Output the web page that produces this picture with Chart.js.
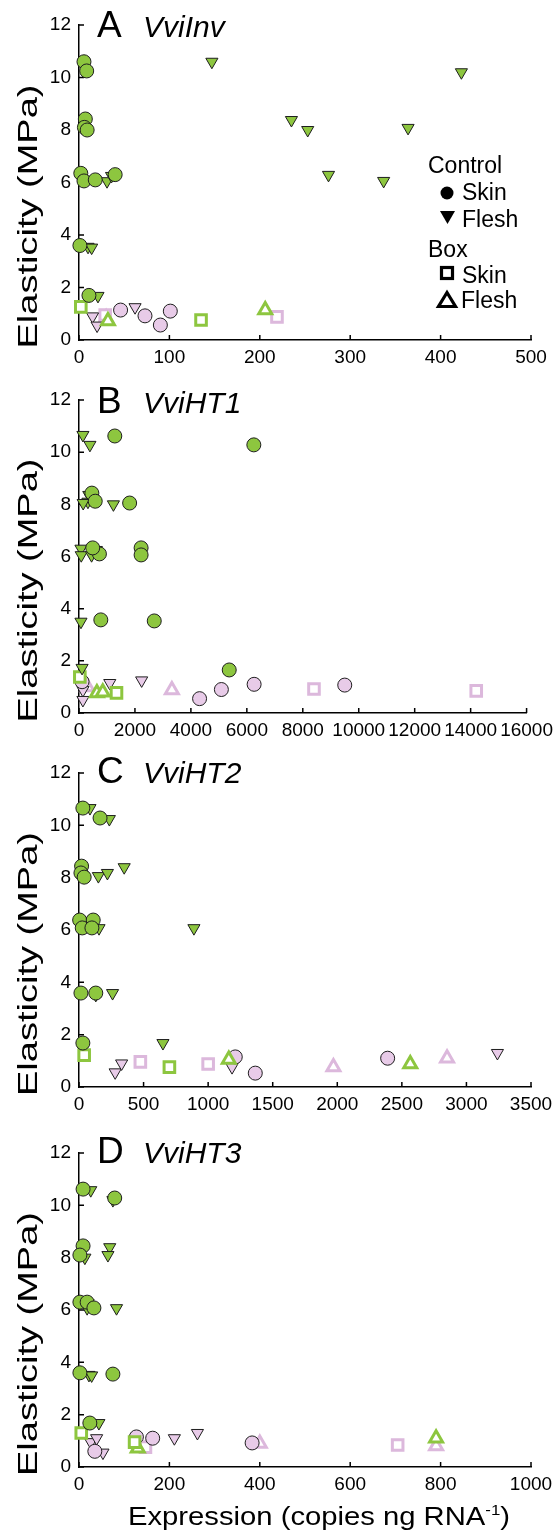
<!DOCTYPE html>
<html>
<head>
<meta charset="utf-8">
<script src="https://cdn.jsdelivr.net/npm/chart.js@4.4.1/dist/chart.umd.min.js"></script>
<style>
  body { margin: 0; background: #fff; width: 559px; height: 1531px; position: relative; overflow: hidden; }
  canvas { position: absolute; left: 0; }
</style>
</head>
<body>
<canvas id="chartA" width="559" height="375" style="top:0px"></canvas>
<canvas id="chartB" width="559" height="375" style="top:375px"></canvas>
<canvas id="chartC" width="559" height="375" style="top:750px"></canvas>
<canvas id="chartD" width="559" height="406" style="top:1125px"></canvas>
<script>
// ---- data: [expression, elasticity] ----
// A  VviInv
const invTicks = [0, 100, 200, 300, 400, 500];
const invCtrlSkinGreen = [[5.5,10.6],[8.5,10.25],[7,8.42],[6,8.1],[9,8.0],[2,6.35],[5.5,6.06],[18,6.1],[40,6.3],[1,3.6],[11,1.7]];
const invCtrlFleshGreen = [[147,10.6],[423,10.2],[235,8.38],[253,8.0],[364,8.08],[276,6.29],[337,6.06],[31,6.05],[36,6.25],[10,3.55],[14,3.52],[21,1.68]];
const invCtrlSkinPink = [[46,1.14],[73,0.92],[90,0.57],[101,1.1]];
const invCtrlFleshPink = [[62,1.25],[15,0.9],[20,0.55]];
const invBoxSkinGreen = [[2,1.26],[135,0.76]];
const invBoxFleshGreen = [[32,0.72],[206,1.14]];
const invBoxSkinPink = [[29,0.95],[219,0.88]];
const invBoxFleshPink = [[30,0.84]];

// B  VviHT1
const ht1Ticks = [0, 2000, 4000, 6000, 8000, 10000, 12000, 14000, 16000];
const ht1CtrlSkinGreen = [[1280,10.62],[6250,10.28],[460,8.43],[580,8.12],[1810,8.05],[2220,6.33],[2220,6.06],[730,6.1],[490,6.33],[780,3.57],[2690,3.53],[5370,1.65]];
const ht1CtrlFleshGreen = [[140,10.66],[390,10.28],[350,8.36],[320,8.1],[150,8.05],[1230,8.0],[70,6.3],[80,6.05],[450,6.05],[620,6.25],[70,3.5],[110,1.73]];
const ht1CtrlSkinPink = [[4310,0.55],[5090,0.9],[6260,1.1],[9500,1.07],[110,1.2]];
const ht1CtrlFleshPink = [[1100,1.15],[2240,1.25],[140,0.88],[140,0.5]];
const ht1BoxSkinGreen = [[30,1.38],[1340,0.77]];
const ht1BoxFleshGreen = [[640,0.77],[850,0.8]];
const ht1BoxSkinPink = [[8400,0.92],[14200,0.85]];
const ht1BoxFleshPink = [[3320,0.88],[300,1.0]];

// C  VviHT2
const ht2Ticks = [0, 500, 1000, 1500, 2000, 2500, 3000, 3500];
const ht2CtrlSkinGreen = [[30,10.66],[163,10.28],[20,8.44],[15,8.18],[40,8.02],[5,6.38],[25,6.08],[110,6.38],[100,6.08],[15,3.59],[130,3.59],[30,1.68]];
const ht2CtrlFleshGreen = [[85,10.66],[235,10.24],[150,8.06],[220,8.18],[350,8.4],[10,6.34],[80,6.34],[155,6.07],[890,6.07],[130,3.52],[260,3.59],[650,1.68]];
const ht2CtrlSkinPink = [[1210,1.15],[1365,0.53],[2390,1.1]];
const ht2CtrlFleshPink = [[280,0.56],[330,0.9],[1185,0.76],[3240,1.3]];
const ht2BoxSkinGreen = [[40,1.22],[700,0.76]];
const ht2BoxFleshGreen = [[1160,1.05],[2565,0.88]];
const ht2BoxSkinPink = [[475,0.96],[1000,0.88]];
const ht2BoxFleshPink = [[1970,0.76],[2850,1.1]];

// D  VviHT3
const ht3Ticks = [0, 200, 400, 600, 800, 1000];
const ht3CtrlSkinGreen = [[9,10.62],[79,10.28],[9,8.45],[2,8.1],[2,6.3],[18,6.3],[33,6.08],[2,3.6],[75,3.55],[24,1.68]];
const ht3CtrlFleshGreen = [[26,10.58],[75,10.2],[68,8.4],[64,8.1],[13,8.0],[18,6.07],[83,6.07],[20,6.27],[22,3.52],[28,3.5],[44,1.68]];
const ht3CtrlSkinPink = [[127,1.15],[163,1.1],[383,0.92],[35,0.6]];
const ht3CtrlFleshPink = [[211,1.1],[262,1.3],[26,0.95],[39,1.1],[53,0.55]];
const ht3BoxSkinGreen = [[5,1.3],[123,0.95]];
const ht3BoxFleshGreen = [[130,0.72],[790,1.1]];
const ht3BoxSkinPink = [[147,0.76],[705,0.84]];
const ht3BoxFleshPink = [[400,0.9],[790,0.8]];

const yTicks = [0, 2, 4, 6, 8, 10, 12];

// ---- styles ----
const GREEN = '#8dc63f';
const PINK_FILL = '#e8cbe8';
const PINK_LINE = '#dcb8dc';
const EDGE = '#1e1e1e';
const FONT = "'Liberation Sans', Arial, Helvetica, sans-serif";

Chart.defaults.font.family = FONT;
Chart.defaults.color = '#000';

function series(points, style) {
    return Object.assign({
        data: points.map(p => ({ x: p[0], y: p[1] })),
        clip: false,
        showLine: false
    }, style);
}

const ctrlSkinG = { pointStyle: 'circle', pointRadius: 7, backgroundColor: GREEN, borderColor: EDGE, borderWidth: 1 };
const ctrlFleshG = { pointStyle: 'triangle', pointRotation: 180, pointRadius: 7, backgroundColor: GREEN, borderColor: EDGE, borderWidth: 1 };
const ctrlSkinP = { pointStyle: 'circle', pointRadius: 7, backgroundColor: PINK_FILL, borderColor: EDGE, borderWidth: 1 };
const ctrlFleshP = { pointStyle: 'triangle', pointRotation: 180, pointRadius: 7, backgroundColor: PINK_FILL, borderColor: EDGE, borderWidth: 1 };
const boxSkinG = { pointStyle: 'rect', pointRadius: 7.5, backgroundColor: '#fff', borderColor: GREEN, borderWidth: 3 };
const boxFleshG = { pointStyle: 'triangle', pointRadius: 7.5, backgroundColor: '#fff', borderColor: GREEN, borderWidth: 3 };
const boxSkinP = { pointStyle: 'rect', pointRadius: 7.5, backgroundColor: '#fff', borderColor: PINK_LINE, borderWidth: 3 };
const boxFleshP = { pointStyle: 'triangle', pointRadius: 7.5, backgroundColor: '#fff', borderColor: PINK_LINE, borderWidth: 3 };

const panels = [
    { id: 'chartA', areaTop: 25, areaBottom: 340, titleBase: 37, letter: 'A', gene: 'VviInv', ticks: invTicks, legend: true, xTitle: false,
      sets: [[invCtrlSkinGreen, ctrlSkinG], [invCtrlFleshGreen, ctrlFleshG], [invBoxSkinGreen, boxSkinG], [invBoxFleshGreen, boxFleshG],
             [invCtrlSkinPink, ctrlSkinP], [invCtrlFleshPink, ctrlFleshP], [invBoxSkinPink, boxSkinP], [invBoxFleshPink, boxFleshP]] },
    { id: 'chartB', areaTop: 25, areaBottom: 338, titleBase: 38, letter: 'B', gene: 'VviHT1', ticks: ht1Ticks, legend: false, xTitle: false,
      sets: [[ht1CtrlSkinGreen, ctrlSkinG], [ht1CtrlFleshGreen, ctrlFleshG], [ht1BoxSkinGreen, boxSkinG], [ht1BoxFleshGreen, boxFleshG],
             [ht1CtrlSkinPink, ctrlSkinP], [ht1CtrlFleshPink, ctrlFleshP], [ht1BoxSkinPink, boxSkinP], [ht1BoxFleshPink, boxFleshP]] },
    { id: 'chartC', areaTop: 23, areaBottom: 337, titleBase: 33, letter: 'C', gene: 'VviHT2', ticks: ht2Ticks, legend: false, xTitle: false,
      sets: [[ht2CtrlSkinGreen, ctrlSkinG], [ht2CtrlFleshGreen, ctrlFleshG], [ht2BoxSkinGreen, boxSkinG], [ht2BoxFleshGreen, boxFleshG],
             [ht2CtrlSkinPink, ctrlSkinP], [ht2CtrlFleshPink, ctrlFleshP], [ht2BoxSkinPink, boxSkinP], [ht2BoxFleshPink, boxFleshP]] },
    { id: 'chartD', areaTop: 28, areaBottom: 342, titleBase: 38, letter: 'D', gene: 'VviHT3', ticks: ht3Ticks, legend: false, xTitle: true,
      sets: [[ht3CtrlSkinGreen, ctrlSkinG], [ht3CtrlFleshGreen, ctrlFleshG], [ht3BoxSkinGreen, boxSkinG], [ht3BoxFleshGreen, boxFleshG],
             [ht3CtrlSkinPink, ctrlSkinP], [ht3CtrlFleshPink, ctrlFleshP], [ht3BoxSkinPink, boxSkinP], [ht3BoxFleshPink, boxFleshP]] }
];

// inward tick marks
const inwardTicks = {
    id: 'inwardTicks',
    beforeDatasetsDraw(chart) {
        const ctx = chart.ctx;
        const { left, bottom } = chart.chartArea;
        const xs = chart.scales.x, ys = chart.scales.y;
        ctx.save();
        ctx.strokeStyle = '#000';
        ctx.lineWidth = 1.5;
        ctx.beginPath();
        xs.ticks.forEach(t => {
            const px = xs.getPixelForValue(t.value);
            ctx.moveTo(px, bottom);
            ctx.lineTo(px, bottom - 5);
        });
        ys.ticks.forEach(t => {
            const py = ys.getPixelForValue(t.value);
            ctx.moveTo(left, py);
            ctx.lineTo(left + 5, py);
        });
        ctx.stroke();
        ctx.restore();
    }
};

// panel letters, stretched y title, legend, x title
const decor = {
    id: 'decor',
    afterDraw(chart, args, opts) {
        const ctx = chart.ctx;
        const area = chart.chartArea;
        ctx.save();
        ctx.fillStyle = '#000';
        ctx.textBaseline = 'alphabetic';
        ctx.textAlign = 'left';

        ctx.font = `37px ${FONT}`;
        ctx.fillText(opts.letter, 97, opts.titleBase);
        ctx.font = `italic 30px ${FONT}`;
        ctx.fillText(opts.gene, 143, opts.titleBase);

        // y title, rotated and stretched along its length
        const yLabel = 'Elasticity (MPa)';
        ctx.font = `28px ${FONT}`;
        const w = ctx.measureText(yLabel).width;
        ctx.save();
        ctx.translate(37, (area.top + area.bottom) / 2 + 34);
        ctx.rotate(-Math.PI / 2);
        ctx.scale(264 / w, 1);
        ctx.textAlign = 'center';
        ctx.fillText(yLabel, 0, 0);
        ctx.restore();

        if (opts.legend) {
            ctx.font = `23px ${FONT}`;
            ctx.fillText('Control', 428, 173);
            ctx.fillText('Skin', 462, 200);
            ctx.fillText('Flesh', 462, 227);
            ctx.fillText('Box', 428, 257);
            ctx.fillText('Skin', 462, 283);
            ctx.fillText('Flesh', 461, 308);

            ctx.beginPath();
            ctx.arc(447, 193, 6.5, 0, Math.PI * 2);
            ctx.fill();

            ctx.beginPath();
            ctx.moveTo(440, 211);
            ctx.lineTo(455, 211);
            ctx.lineTo(447.5, 224);
            ctx.closePath();
            ctx.fill();

            ctx.strokeStyle = '#000';
            ctx.lineWidth = 3.2;
            ctx.strokeRect(441.5, 267.5, 11, 11);

            ctx.lineJoin = 'miter';
            ctx.beginPath();
            ctx.moveTo(447, 292.5);
            ctx.lineTo(455.5, 306.5);
            ctx.lineTo(438.5, 306.5);
            ctx.closePath();
            ctx.stroke();
        }

        if (opts.xTitle) {
            const main = 'Expression (copies ng RNA';
            const sup = '-1';
            const close = ')';
            ctx.font = `26px ${FONT}`;
            const w1 = ctx.measureText(main).width;
            const w3 = ctx.measureText(close).width;
            ctx.font = `15px ${FONT}`;
            const w2 = ctx.measureText(sup).width;
            const sx = 382 / (w1 + w2 + w3);
            ctx.save();
            ctx.translate(128, 400);
            ctx.scale(sx, 1);
            ctx.font = `26px ${FONT}`;
            ctx.fillText(main, 0, 0);
            ctx.font = `15px ${FONT}`;
            ctx.fillText(sup, w1, -10);
            ctx.font = `26px ${FONT}`;
            ctx.fillText(close, w1 + w2, 0);
            ctx.restore();
        }
        ctx.restore();
    }
};

panels.forEach(p => {
    const canvas = document.getElementById(p.id);
    const h = canvas.height;
    new Chart(canvas.getContext('2d'), {
        type: 'scatter',
        data: { datasets: p.sets.map(s => series(s[0], s[1])) },
        options: {
            responsive: false,
            animation: false,
            events: [],
            layout: { padding: { top: p.areaTop, right: 28, left: 0, bottom: 0 } },
            plugins: {
                legend: { display: false },
                tooltip: { enabled: false },
                decor: { letter: p.letter, gene: p.gene, titleBase: p.titleBase, legend: p.legend, xTitle: p.xTitle }
            },
            scales: {
                x: {
                    type: 'linear',
                    min: p.ticks[0],
                    max: p.ticks[p.ticks.length - 1],
                    afterBuildTicks: scale => { scale.ticks = p.ticks.map(v => ({ value: v })); },
                    afterFit: scale => { scale.height = h - p.areaBottom; },
                    grid: { display: false, drawTicks: false },
                    border: { display: true, color: '#000', width: 1.5 },
                    ticks: { autoSkip: false, maxRotation: 0, minRotation: 0, padding: 6,
                             font: { size: 19 }, color: '#000', callback: v => String(v) }
                },
                y: {
                    min: 0,
                    max: 12,
                    afterBuildTicks: scale => { scale.ticks = yTicks.map(v => ({ value: v })); },
                    afterFit: scale => { scale.width = 79; },
                    grid: { display: false, drawTicks: false },
                    border: { display: true, color: '#000', width: 1.5 },
                    ticks: { padding: 8, font: { size: 19 }, color: '#000', callback: v => String(v) }
                }
            }
        },
        plugins: [inwardTicks, decor]
    });
});
</script>
</body>
</html>
